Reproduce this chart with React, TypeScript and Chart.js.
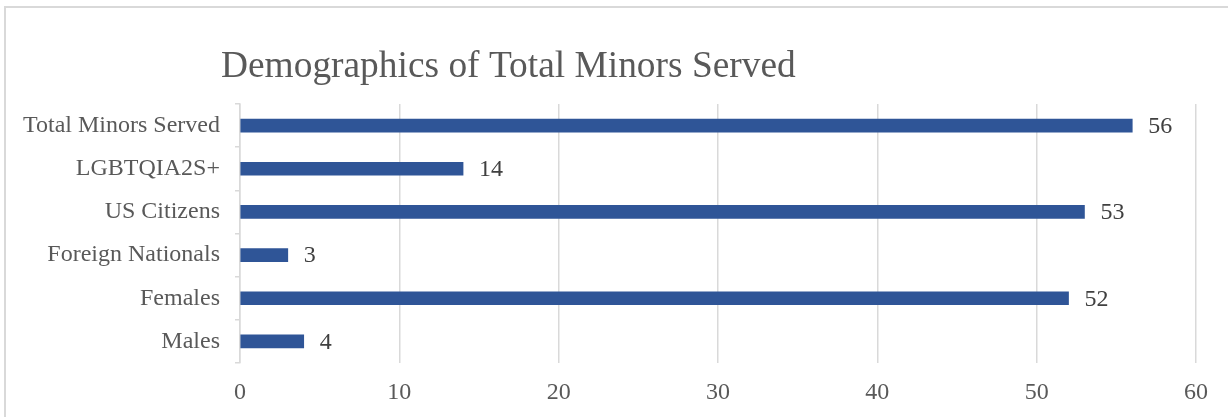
import React, { useEffect, useRef } from "react";
import { Chart, registerables } from "chart.js";

Chart.register(...registerables);

const TITLE = "Demographics of Total Minors Served";
const categories = [
  "Total Minors Served",
  "LGBTQIA2S+",
  "US Citizens",
  "Foreign Nationals",
  "Females",
  "Males",
];
const values = [56, 14, 53, 3, 52, 4];
const xMin = 0;
const xMax = 60;
const xStep = 10;

const FONT = '"Liberation Serif", "Times New Roman", serif';
const TEXT = "#595959";
const BAR = "#2F5597";
const GRID = "#D9D9D9";

const decorPlugin = {
  id: "decor",
  beforeDraw(chart: any) {
    const ctx = chart.ctx;
    ctx.save();
    ctx.strokeStyle = GRID;
    ctx.lineWidth = 2;
    ctx.strokeRect(5, 7, 1400, 600);
    ctx.fillStyle = TEXT;
    ctx.font = `37.4px ${FONT}`;
    ctx.textAlign = "left";
    ctx.textBaseline = "alphabetic";
    ctx.fillText(TITLE, 221, 77);
    ctx.restore();
  },
  afterDatasetsDraw(chart: any) {
    const ctx = chart.ctx;
    const meta = chart.getDatasetMeta(0);
    const data = chart.data.datasets[0].data;
    ctx.save();
    ctx.fillStyle = "#404040";
    ctx.font = `24px ${FONT}`;
    ctx.textAlign = "left";
    ctx.textBaseline = "middle";
    meta.data.forEach((bar: any, i: number) => {
      ctx.fillText(String(data[i]), bar.x + 16, bar.y + 1);
    });
    ctx.restore();
  },
};

export default function App() {
  const ref = useRef<HTMLCanvasElement | null>(null);
  useEffect(() => {
    if (!ref.current) return;
    const chart = new Chart(ref.current, {
      type: "bar",
      data: {
        labels: categories,
        datasets: [
          {
            data: values,
            backgroundColor: BAR,
            barThickness: 13,
          },
        ],
      },
      options: {
        indexAxis: "y",
        responsive: false,
        animation: false,
        devicePixelRatio: 1,
        layout: { padding: { left: 0, right: 32, top: 104, bottom: 0 } },
        plugins: {
          legend: { display: false },
          title: { display: false },
          tooltip: { enabled: false },
        },
        scales: {
          x: {
            min: xMin,
            max: xMax,
            ticks: {
              stepSize: xStep,
              color: TEXT,
              font: { family: FONT, size: 24 },
              padding: 15,
            },
            grid: { color: GRID, lineWidth: 1.5, drawTicks: false },
            border: { display: false },
            afterFit: (s: any) => {
              s.height = 54;
            },
          },
          y: {
            ticks: {
              color: TEXT,
              font: { family: FONT, size: 24 },
              padding: 15,
            },
            grid: {
              drawOnChartArea: false,
              drawTicks: true,
              tickLength: 5,
              color: GRID,
              lineWidth: 1.5,
            },
            border: { display: true, color: GRID, width: 1.5 },
            afterFit: (s: any) => {
              s.width = 240;
            },
          },
        },
      },
      plugins: [decorPlugin],
    });
    return () => chart.destroy();
  }, []);
  return (
    <div style={{ position: "fixed", left: 0, top: 0, width: 1228, height: 417, background: "#fff" }}>
      <canvas ref={ref} width={1228} height={417} />
    </div>
  );
}
